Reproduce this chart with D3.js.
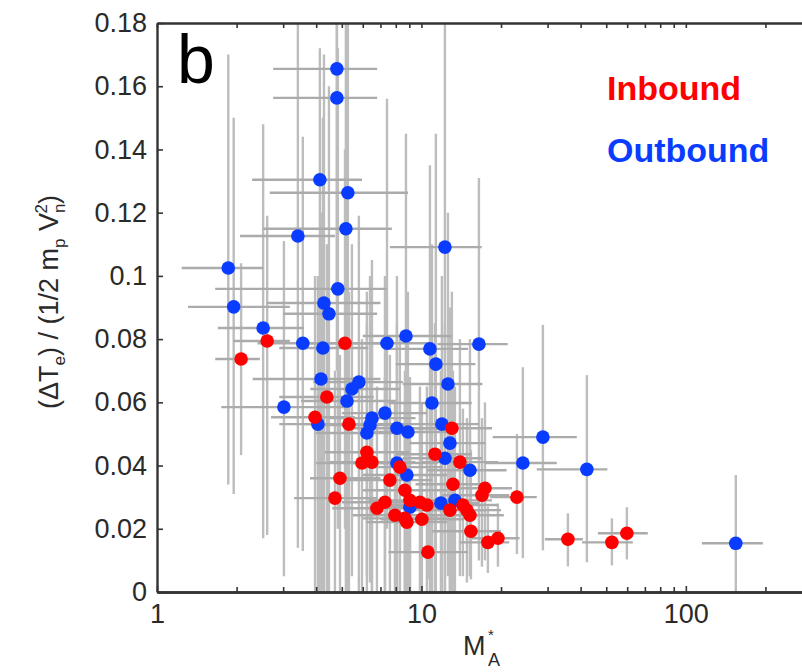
<!DOCTYPE html>
<html>
<head>
<meta charset="utf-8">
<script src="https://cdn.jsdelivr.net/npm/d3@7"></script>
<style>
html,body{margin:0;padding:0;background:#fff;}
svg{display:block;}
text{font-family:"Liberation Sans",Arial,Helvetica,sans-serif;}
</style>
</head>
<body>
<svg id="chart" width="802" height="672"></svg>
<script>
// ---------- DATA ----------
// Outbound (blue)
const outX   = [4.79,4.79,4.13,5.27,3.41,5.18,1.86,1.95,4.83,4.28,4.47,2.52,3.56,4.24,4.17,3.02,4.06,5.23,5.46,5.80,7.41,8.74,10.77,11.34,12.60,12.27,16.50,10.96,7.28,6.50,11.95,6.39,6.22,8.08,8.89,8.08,8.81,12.82,12.27,15.26,28.80,24.19,42.24,11.85,13.39,9.05,154.5];
const outY   = [0.1655,0.1563,0.1304,0.1263,0.1126,0.1149,0.1025,0.0902,0.0959,0.0914,0.0880,0.0835,0.0787,0.0772,0.0674,0.0585,0.0531,0.0604,0.0642,0.0664,0.0787,0.0810,0.0769,0.0721,0.0658,0.1091,0.0784,0.0598,0.0566,0.0550,0.0531,0.0528,0.0503,0.0518,0.0506,0.0408,0.0370,0.0471,0.0423,0.0385,0.0490,0.0408,0.0388,0.0281,0.0290,0.0268,0.0154];
const outXlo = [2.75,2.75,2.29,2.67,2.06,2.52,1.24,1.31,1.66,2.6,3.0,1.7,2.4,2.9,2.3,1.75,2.9,3.5,3.8,3.9,5.2,6.0,7.5,8.0,8.5,7.6,11.5,7.5,5.0,4.5,8.0,4.2,4.0,5.5,6.0,5.5,6.0,9.0,8.5,10.5,18.6,17.4,27.3,8.5,9.5,6.5,115];
const outXhi = [6.8,6.8,5.96,8.9,4.71,7.73,2.52,3.18,7.41,7.0,6.8,3.6,5.3,6.3,7.0,5.2,5.6,8.0,8.3,8.5,11.0,13.0,15.0,16.0,17.0,16.9,21.2,15.5,10.5,9.5,16.5,9.0,9.0,11.5,12.5,11.5,12.5,17.5,17.0,21.0,38.7,32.5,50.5,16.5,18.5,12.5,195.5];
const outYlo = [0.095,0.07,0.0,0.04,0.014,0.0,0.034,0.031,0.02,0.0,0.0,0.017,0.013,0.0,0.0,0.005,0.0,0.0,0.005,0.0,0.02,0.01,0.0,0.0,0.005,0.0,0.01,0.0,0.0,0.0,0.0,0.003,0.0,0.0,0.0,0.0,0.0,0.0,0.0,0.005,0.0132,0.0107,0.0094,0.0,0.0,0.0,0.0];
const outYhi = [0.24,0.24,0.172,0.22,0.2,0.2,0.17,0.15,0.172,0.17,0.16,0.148,0.144,0.15,0.12,0.111,0.1,0.11,0.11,0.119,0.156,0.145,0.135,0.145,0.12,0.23,0.131,0.11,0.1,0.105,0.1,0.1,0.095,0.1,0.095,0.085,0.08,0.09,0.085,0.08,0.0845,0.0711,0.0686,0.07,0.065,0.065,0.037];

// Inbound (red)
const inX   = [2.08,2.61,5.14,4.39,3.96,5.32,6.22,5.96,6.50,4.92,4.71,7.60,6.79,7.28,7.94,8.29,8.66,9.05,9.87,10.49,8.66,8.81,10.04,10.58,13.04,11.25,13.98,13.16,17.39,16.94,22.97,12.82,14.35,14.86,15.26,15.39,17.84,19.47,35.81,52.52,59.84];
const inY   = [0.0737,0.0794,0.0787,0.0617,0.0553,0.0531,0.0442,0.0408,0.0411,0.0360,0.0297,0.0354,0.0265,0.0284,0.0243,0.0395,0.0322,0.0290,0.0284,0.0275,0.0233,0.0221,0.0230,0.0126,0.0518,0.0436,0.0411,0.0341,0.0328,0.0306,0.0300,0.0259,0.0275,0.0259,0.0243,0.0192,0.0157,0.0170,0.0167,0.0157,0.0186];
const inXlo = [1.66,1.94,3.5,2.9,2.7,3.6,4.3,4.0,4.5,3.79,3.3,5.2,4.6,5.0,5.5,5.8,6.0,6.3,7.0,7.3,6.0,6.2,7.0,7.5,9.0,8.0,10.0,9.5,12.5,12.0,18.2,9.0,10.2,10.5,11.0,11.0,14.0,15.5,29.3,40.5,46.5];
const inXhi = [2.45,3.18,7.5,6.6,5.6,7.8,9.0,8.5,9.5,7.0,6.8,11.0,9.8,10.5,11.5,12.0,12.5,13.0,14.0,15.0,12.5,12.5,14.5,15.0,18.5,15.5,19.5,18.0,22.0,21.5,27.3,17.5,19.5,20.0,20.5,20.0,21.5,23.5,40.8,63.0,71.8];
const inYlo = [0.0433,0.018,0.02,0.0,0.0,0.0,0.005,0.0,0.0,0.0,0.0,0.0,0.0,0.0,0.0,0.0,0.0,0.0,0.0,0.0,0.0,0.0,0.0,0.004,0.0,0.0,0.005,0.0,0.01,0.008,0.012,0.0,0.005,0.003,0.005,0.004,0.006,0.008,0.0081,0.0084,0.0103];
const inYhi = [0.104,0.119,0.14,0.11,0.1,0.095,0.085,0.08,0.08,0.075,0.07,0.075,0.065,0.068,0.06,0.08,0.07,0.068,0.065,0.065,0.06,0.058,0.06,0.03,0.095,0.085,0.08,0.07,0.06,0.055,0.05,0.06,0.058,0.055,0.052,0.045,0.027,0.028,0.0249,0.0233,0.0268];

// Axis ticks / labels
const yTicks = [0,0.02,0.04,0.06,0.08,0.1,0.12,0.14,0.16,0.18];
const xMajorTicks = [1,10,100];
const xMinorTicks = [2,3,4,5,6,7,8,9,20,30,40,50,60,70,80,90,200,300];
const legendLabels = ["Inbound","Outbound"];
const seriesColors = ["#ff0000","#0a3cff"];

// ---------- LAYOUT ----------
const svg = d3.select("#chart");
const pLeft = 157, pRight = 812, pTop = 23, pBottom = 592;
const x = d3.scaleLog().domain([1,300]).range([pLeft,pRight]);
const y = d3.scaleLinear().domain([0,0.18]).range([pBottom,pTop]);

svg.append("rect").attr("width",802).attr("height",672).attr("fill","#fff");

svg.append("defs").append("clipPath").attr("id","plotclip")
  .append("rect").attr("x",pLeft).attr("y",pTop).attr("width",pRight-pLeft).attr("height",pBottom-pTop);

const plot = svg.append("g").attr("clip-path","url(#plotclip)");

function series(X,Y,Xlo,Xhi,Ylo,Yhi){
  return X.map((v,i)=>({x:v,y:Y[i],xlo:Xlo[i],xhi:Xhi[i],ylo:Ylo[i],yhi:Yhi[i]}));
}
const outData = series(outX,outY,outXlo,outXhi,outYlo,outYhi);
const inData  = series(inX,inY,inXlo,inXhi,inYlo,inYhi);
const all = outData.concat(inData);

// error bars
plot.append("g").selectAll("line").data(all).join("line")
  .attr("x1",d=>x(d.x)).attr("x2",d=>x(d.x))
  .attr("y1",d=>y(d.ylo)).attr("y2",d=>y(d.yhi))
  .attr("stroke","#bdbdbd").attr("stroke-width",2.4);
plot.append("g").selectAll("line").data(all).join("line")
  .attr("x1",d=>x(d.xlo)).attr("x2",d=>x(d.xhi))
  .attr("y1",d=>y(d.y)).attr("y2",d=>y(d.y))
  .attr("stroke","#ababab").attr("stroke-width",2.4);

// points
plot.append("g").selectAll("circle").data(outData).join("circle")
  .attr("cx",d=>x(d.x)).attr("cy",d=>y(d.y)).attr("r",6.8).attr("fill",seriesColors[1]);
plot.append("g").selectAll("circle").data(inData).join("circle")
  .attr("cx",d=>x(d.x)).attr("cy",d=>y(d.y)).attr("r",6.8).attr("fill",seriesColors[0]);

// ---------- AXES ----------
const axisColor = "#333";
const fmtY = d => d===0 ? "0" : String(+d.toFixed(2));

const yAxis = svg.append("g").attr("transform",`translate(${pLeft},0)`)
  .call(d3.axisLeft(y).tickValues(yTicks).tickFormat(fmtY).tickSizeInner(-6).tickSizeOuter(0).tickPadding(10));
const xAxis = svg.append("g").attr("transform",`translate(0,${pBottom})`)
  .call(d3.axisBottom(x).tickValues(xMajorTicks).tickFormat(d3.format("d")).tickSizeInner(-6).tickSizeOuter(0).tickPadding(12));
const xMinor = svg.append("g").attr("transform",`translate(0,${pBottom})`)
  .call(d3.axisBottom(x).tickValues(xMinorTicks).tickFormat("").tickSizeInner(-5).tickSizeOuter(0));
const xTop = svg.append("g").attr("transform",`translate(0,${pTop})`)
  .call(d3.axisTop(x).tickValues(xMajorTicks.concat(xMinorTicks)).tickFormat("").tickSizeInner(-5).tickSizeOuter(0));

[yAxis,xAxis,xMinor,xTop].forEach(g=>{
  g.select(".domain").attr("stroke",axisColor).attr("stroke-width",2.4);
  g.selectAll(".tick line").attr("stroke",axisColor).attr("stroke-width",1.6);
  g.selectAll(".tick text").attr("fill","#2a2a2a").attr("font-size",27)
    .attr("font-family","'Liberation Sans',Arial,sans-serif");
});

// panel letter
svg.append("text").attr("x",177).attr("y",83).attr("font-size",68).attr("fill","#000").text("b");

// legend
legendLabels.forEach((lab,i)=>{
  svg.append("text").attr("x",607).attr("y",100 + i*62).attr("font-size",34)
    .attr("font-weight","bold").attr("fill",seriesColors[i]).text(lab);
});

// x label (M*_A)
svg.append("text").attr("x",463).attr("y",655).attr("font-size",27).attr("fill","#2a2a2a").text("M");
svg.append("text").attr("x",488).attr("y",640).attr("font-size",15).attr("fill","#2a2a2a").text("*");
svg.append("text").attr("x",488).attr("y",666).attr("font-size",18).attr("fill","#2a2a2a").text("A");

// y label
const yl = svg.append("text").attr("transform","translate(58,302) rotate(-90)")
  .attr("text-anchor","middle").attr("font-size",27).attr("fill","#2a2a2a");
yl.append("tspan").text("(ΔT");
yl.append("tspan").attr("font-size",17).attr("dy",7).text("e");
yl.append("tspan").attr("dy",-7).text(") / (1/2 m");
yl.append("tspan").attr("font-size",17).attr("dy",7).text("p");
yl.append("tspan").attr("dy",-7).text(" V");
yl.append("tspan").attr("font-size",17).attr("dy",7).text("n");
yl.append("tspan").attr("font-size",17).attr("dy",-18).attr("dx",-10).text("2");
yl.append("tspan").attr("dy",11).text(")");
</script>
</body>
</html>
